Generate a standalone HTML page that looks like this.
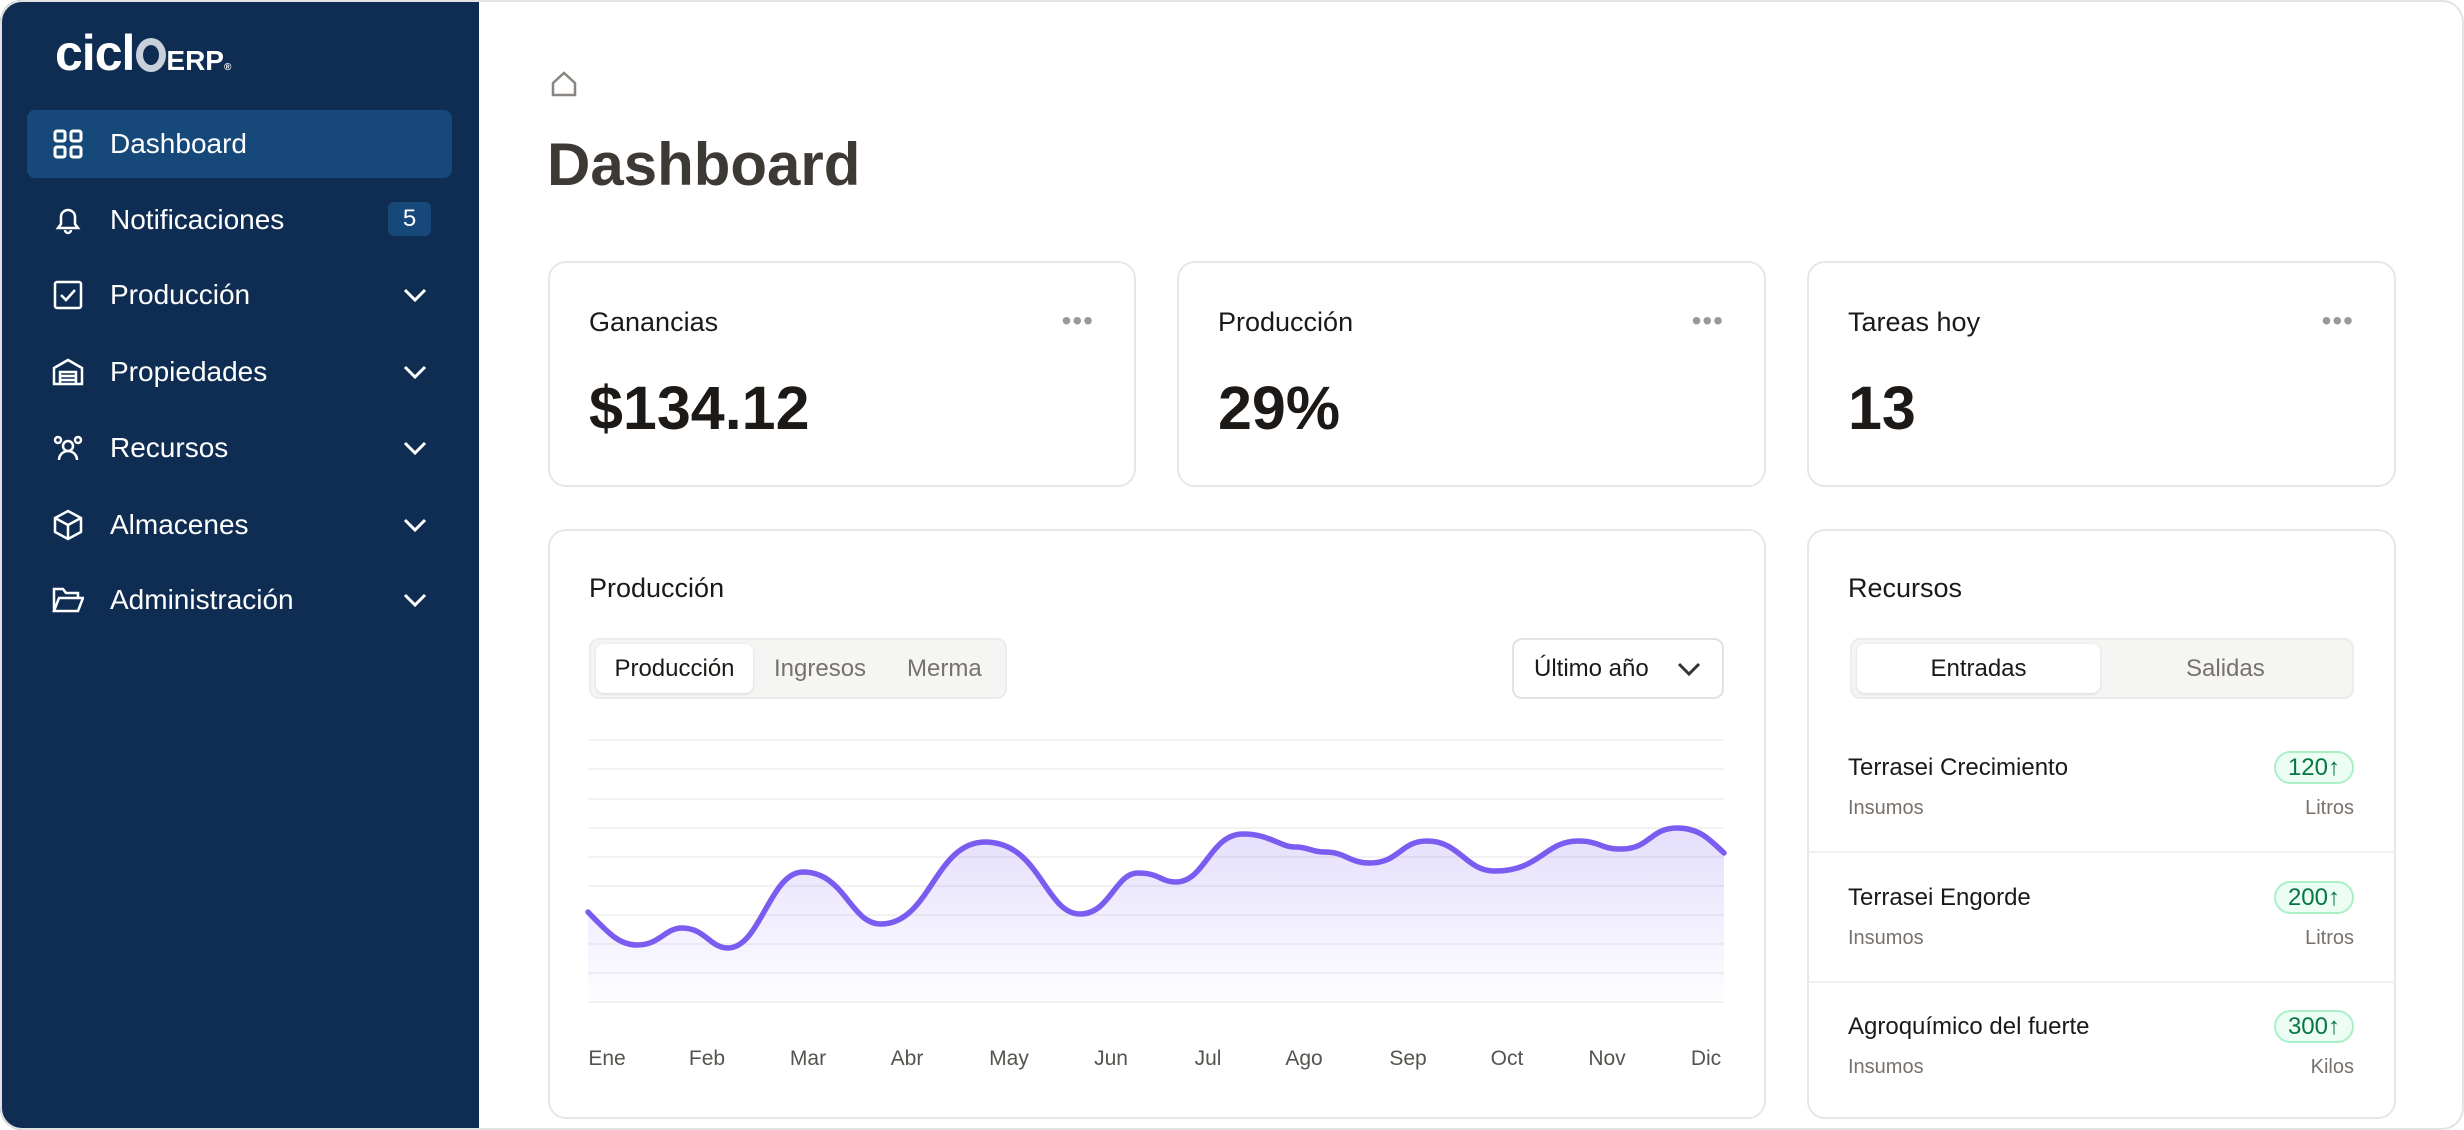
<!DOCTYPE html>
<html><head><meta charset="utf-8"><style>
*{box-sizing:border-box;margin:0;padding:0}
body{width:2464px;height:1120px;overflow:hidden;background:#fff;font-family:"Liberation Sans",sans-serif;color:#1c1917;position:relative}
.frame{position:absolute;left:0;top:0;width:2464px;height:1130px;border-radius:22px;overflow:hidden}
.outline{position:absolute;left:0;top:0;width:2464px;height:1130px;border:2px solid #e2e2e2;border-radius:22px;pointer-events:none}
.side{position:absolute;left:0;top:0;width:479px;height:1130px;background:#0f2d52}
.logo{position:absolute;left:55px;top:24px;color:#fff;font-weight:bold}
.nav{position:absolute;left:27px;width:425px;height:68px;border-radius:8px;color:#fff;font-size:28px;display:flex;align-items:center}
.nav.act{background:#16497a}
.nav .ic{position:absolute;left:25px;top:18px;width:32px;height:32px}
.nav .t{position:absolute;left:83px}
.nav .ch{position:absolute;left:375px;top:22px}
.badge{position:absolute;left:361px;top:16px;width:43px;height:34px;background:#16497a;border-radius:6px;font-size:24px;text-align:center;line-height:34px}
.card{position:absolute;border:2px solid #e7e7e7;border-radius:18px;background:#fff}
.ct{position:absolute;left:39px;font-size:27px;color:#1c1917}
.cv{position:absolute;left:39px;top:110px;font-size:61px;font-weight:bold;color:#1c1917}
.dots{position:absolute;right:40px;top:42px;font-size:28px;color:#999;letter-spacing:1px}
.tabs{position:absolute;background:#f5f5f4;border:2px solid #ececec;border-radius:10px}
.tab{position:absolute;font-size:24px;color:#78716c;top:0;height:57px;line-height:57px}
.tab.act{background:#fff;border-radius:8px;color:#1c1917;top:4px;height:49px;line-height:49px;box-shadow:0 1px 3px rgba(0,0,0,.12);text-align:center}
.mon{position:absolute;top:1047px;font-size:21px;color:#57534e;transform:translateX(-50%)}
.item{position:absolute;left:1848px;width:506px}
.nm{position:absolute;left:0;font-size:24px;color:#1c1917}
.sb{position:absolute;left:0;font-size:20px;color:#78716c}
.sr{position:absolute;right:0;font-size:20px;color:#78716c}
.gb{position:absolute;right:0;height:33px;padding:0 12px;border:2px solid #abefc6;background:#ecfdf3;color:#067647;border-radius:17px;font-size:24px;line-height:29px}
.sep{position:absolute;left:1808px;width:587px;height:2px;background:#f0f0f0}
</style></head><body>
<div class="frame">
<div class="side">
 <div class="logo"><span style="font-size:50px;letter-spacing:-1px">cicl</span><span style="display:inline-block;width:30px;height:34px;border:7px solid #c8d0dc;border-radius:50%;vertical-align:-2px;margin-left:2px"></span><span style="font-size:28px">ERP</span><span style="font-size:10px">®</span></div>
 <div class="nav act" style="top:110px"><svg class="ic" viewBox="0 0 32 32" fill="none" stroke="#fff" stroke-width="3"><rect x="3" y="3" width="10" height="10" rx="2"/><rect x="19" y="3" width="10" height="10" rx="2"/><rect x="3" y="19" width="10" height="10" rx="2"/><rect x="19" y="19" width="10" height="10" rx="2"/></svg><span class="t">Dashboard</span></div>
 <div class="nav" style="top:186px"><svg class="ic" viewBox="0 0 32 32" fill="none" stroke="#fff" stroke-width="2.5"><path d="M6 24h20l-3-4v-7a7 7 0 0 0-14 0v7z M13 26a3 3 0 0 0 6 0"/></svg><span class="t">Notificaciones</span><span class="badge">5</span></div>
 <div class="nav" style="top:261px"><svg class="ic" viewBox="0 0 32 32" fill="none" stroke="#fff" stroke-width="2.5"><rect x="3" y="3" width="26" height="26" rx="2"/><path d="M9 16l5 5 9-10"/></svg><span class="t">Producción</span><svg class="ch" width="26" height="24" viewBox="0 0 26 24" fill="none" stroke="#fff" stroke-width="3"><path d="M3 7l10 10 10-10"/></svg></div>
 <div class="nav" style="top:338px"><svg class="ic" viewBox="0 0 32 32" fill="none" stroke="#fff" stroke-width="2.5"><path d="M2 12l14-8 14 8v16H2z M8 28V16h16v12 M8 20h16 M8 24h16"/></svg><span class="t">Propiedades</span><svg class="ch" width="26" height="24" viewBox="0 0 26 24" fill="none" stroke="#fff" stroke-width="3"><path d="M3 7l10 10 10-10"/></svg></div>
 <div class="nav" style="top:414px"><svg class="ic" viewBox="0 0 32 32" fill="none" stroke="#fff" stroke-width="2.5"><circle cx="16" cy="14" r="5"/><path d="M7 28a9 9 0 0 1 18 0"/><circle cx="6" cy="8" r="3"/><circle cx="26" cy="8" r="3"/></svg><span class="t">Recursos</span><svg class="ch" width="26" height="24" viewBox="0 0 26 24" fill="none" stroke="#fff" stroke-width="3"><path d="M3 7l10 10 10-10"/></svg></div>
 <div class="nav" style="top:491px"><svg class="ic" viewBox="0 0 32 32" fill="none" stroke="#fff" stroke-width="2.5"><path d="M16 2l13 7v14l-13 7-13-7V9z M3 9l13 7 13-7 M16 16v14"/></svg><span class="t">Almacenes</span><svg class="ch" width="26" height="24" viewBox="0 0 26 24" fill="none" stroke="#fff" stroke-width="3"><path d="M3 7l10 10 10-10"/></svg></div>
 <div class="nav" style="top:566px"><svg class="ic" viewBox="0 0 32 32" fill="none" stroke="#fff" stroke-width="2.5"><path d="M2 27V5h9l3 4h12v5 M2 27l5-13h24l-5 13z"/></svg><span class="t">Administración</span><svg class="ch" width="26" height="24" viewBox="0 0 26 24" fill="none" stroke="#fff" stroke-width="3"><path d="M3 7l10 10 10-10"/></svg></div>
</div>

<svg style="position:absolute;left:550px;top:70px" width="28" height="28" viewBox="0 0 28 28" fill="none" stroke="#8a8580" stroke-width="2.5"><path d="M3 13L14 3l11 10v12H3z"/></svg>
<div style="position:absolute;left:547px;top:130px;font-size:60px;font-weight:bold;color:#3d3a36">Dashboard</div>

<div class="card" style="left:548px;top:261px;width:588px;height:226px"><div class="ct" style="top:44px">Ganancias</div><div class="dots">•••</div><div class="cv">$134.12</div></div>
<div class="card" style="left:1177px;top:261px;width:589px;height:226px"><div class="ct" style="top:44px">Producción</div><div class="dots">•••</div><div class="cv">29%</div></div>
<div class="card" style="left:1807px;top:261px;width:589px;height:226px"><div class="ct" style="top:44px">Tareas hoy</div><div class="dots">•••</div><div class="cv">13</div></div>

<div class="card" style="left:548px;top:529px;width:1218px;height:590px"></div>
<div class="ct" style="left:589px;top:573px">Producción</div>
<div class="tabs" style="left:589px;top:638px;width:418px;height:61px"><div class="tab act" style="left:5px;width:157px">Producción</div><div class="tab" style="left:183px">Ingresos</div><div class="tab" style="left:316px">Merma</div></div>
<div style="position:absolute;left:1512px;top:638px;width:212px;height:61px;border:2px solid #e2e2e2;border-radius:10px;font-size:24px;line-height:57px;padding-left:20px;color:#1c1917">Último año<svg style="position:absolute;right:20px;top:20px" width="26" height="18" viewBox="0 0 26 18" fill="none" stroke="#333" stroke-width="3"><path d="M3 4l10 10 10-10"/></svg></div>

<svg style="position:absolute;left:0;top:0" width="2464" height="1120">
<defs><linearGradient id="g" x1="0" y1="0" x2="0" y2="1"><stop offset="0" stop-color="#7b5cf0" stop-opacity="0.2"/><stop offset="1" stop-color="#7b5cf0" stop-opacity="0.01"/></linearGradient></defs>
<g stroke="#f2f2f2" stroke-width="2">
<line x1="588" x2="1724" y1="740" y2="740"/><line x1="588" x2="1724" y1="769" y2="769"/><line x1="588" x2="1724" y1="799" y2="799"/><line x1="588" x2="1724" y1="828" y2="828"/><line x1="588" x2="1724" y1="857" y2="857"/><line x1="588" x2="1724" y1="886" y2="886"/><line x1="588" x2="1724" y1="915" y2="915"/><line x1="588" x2="1724" y1="944" y2="944"/><line x1="588" x2="1724" y1="973" y2="973"/><line x1="588" x2="1724" y1="1002" y2="1002"/>
</g>
<path d="M588 912 C610 935 620 945 637 945 C660 945 665 928 682 928 C705 928 710 948 728 948 C760 948 770 872 803 872 C845 872 850 924 881 924 C930 924 935 842 985 842 C1040 842 1045 914 1080 914 C1110 914 1115 873 1138 873 C1160 873 1160 882 1176 882 C1205 882 1210 834 1243 834 C1270 834 1280 847 1295 847 C1310 847 1310 852 1325 852 C1345 852 1350 863 1369 863 C1400 863 1400 841 1427 841 C1460 841 1465 871 1495 871 C1540 871 1545 841 1578 841 C1600 841 1600 849 1621 849 C1650 849 1650 828 1677 828 C1700 828 1710 840 1724 853 L1724 1002 L588 1002Z" fill="url(#g)"/>
<path d="M588 912 C610 935 620 945 637 945 C660 945 665 928 682 928 C705 928 710 948 728 948 C760 948 770 872 803 872 C845 872 850 924 881 924 C930 924 935 842 985 842 C1040 842 1045 914 1080 914 C1110 914 1115 873 1138 873 C1160 873 1160 882 1176 882 C1205 882 1210 834 1243 834 C1270 834 1280 847 1295 847 C1310 847 1310 852 1325 852 C1345 852 1350 863 1369 863 C1400 863 1400 841 1427 841 C1460 841 1465 871 1495 871 C1540 871 1545 841 1578 841 C1600 841 1600 849 1621 849 C1650 849 1650 828 1677 828 C1700 828 1710 840 1724 853" fill="none" stroke="#7b5cf0" stroke-width="5.5" stroke-linecap="round"/>
</svg>
<div class="mon" style="left:607px">Ene</div><div class="mon" style="left:707px">Feb</div><div class="mon" style="left:808px">Mar</div><div class="mon" style="left:907px">Abr</div><div class="mon" style="left:1009px">May</div><div class="mon" style="left:1111px">Jun</div><div class="mon" style="left:1208px">Jul</div><div class="mon" style="left:1304px">Ago</div><div class="mon" style="left:1408px">Sep</div><div class="mon" style="left:1507px">Oct</div><div class="mon" style="left:1607px">Nov</div><div class="mon" style="left:1706px">Dic</div>

<div class="card" style="left:1807px;top:529px;width:589px;height:590px"></div>
<div class="ct" style="left:1848px;top:573px">Recursos</div>
<div class="tabs" style="left:1850px;top:638px;width:504px;height:61px"><div class="tab act" style="left:5px;width:243px">Entradas</div><div class="tab" style="left:334px">Salidas</div></div>
<div class="item" style="top:751px"><div class="nm" style="top:3px">Terrasei Crecimiento</div><div class="gb" style="top:0">120↑</div><div class="sb" style="top:46px">Insumos</div><div class="sr" style="top:46px">Litros</div></div>
<div class="sep" style="top:851px"></div>
<div class="item" style="top:881px"><div class="nm" style="top:3px">Terrasei Engorde</div><div class="gb" style="top:0">200↑</div><div class="sb" style="top:46px">Insumos</div><div class="sr" style="top:46px">Litros</div></div>
<div class="sep" style="top:981px"></div>
<div class="item" style="top:1010px"><div class="nm" style="top:3px">Agroquímico del fuerte</div><div class="gb" style="top:0">300↑</div><div class="sb" style="top:46px">Insumos</div><div class="sr" style="top:46px">Kilos</div></div>
</div>
<div class="outline"></div>
</body></html>
